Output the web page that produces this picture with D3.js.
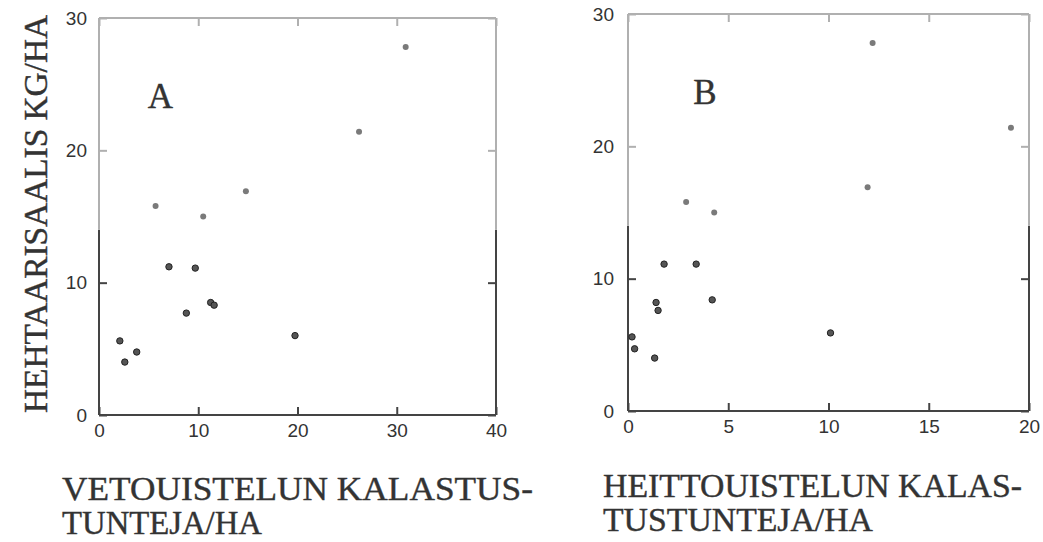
<!DOCTYPE html>
<html lang="fi">
<head>
  <meta charset="UTF-8" />
  <title>Hehtaarisaalis ja kalastustunnit</title>
  <script src="https://d3js.org/d3.v7.min.js"></script>
  <style>
    body { margin: 0; background: #fff; }
    svg { display: block; background: #fff; }
    .lbl { font-family: "Liberation Serif", "Times New Roman", serif; fill: #333; stroke: #333; stroke-width: 0.4px; }
    .tick text { font-family: "Liberation Sans", Arial, sans-serif; font-size: 19px; fill: #333; }
  </style>
</head>
<body>
<svg width="1043" height="542"></svg>
<script>
  // Paneeli A: vetouistelu
  const xA = [30.9, 26.2, 14.8, 5.7, 10.5, 7.05, 9.7, 11.25, 11.6, 8.8, 19.75, 2.1, 3.8, 2.6];
  const yA = [27.8, 21.4, 16.9, 15.8, 15.0, 11.2, 11.1, 8.5, 8.3, 7.7, 6.0, 5.6, 4.76, 4.0];
  // Paneeli B: heittouistelu
  const xB = [12.2, 19.1, 11.95, 2.9, 4.3, 1.8, 3.4, 4.2, 1.4, 1.5, 0.2, 0.33, 1.33, 10.1];
  const yB = [27.8, 21.4, 16.9, 15.8, 15.0, 11.1, 11.1, 8.4, 8.2, 7.6, 5.6, 4.7, 4.0, 5.9];

  const xTicksA = [0, 10, 20, 30, 40];
  const xTicksB = [0, 5, 10, 15, 20];
  const yTicks = [0, 10, 20, 30];

  const yLabel = "HEHTAARISAALIS KG/HA";
  const xLabelA = ["VETOUISTELUN KALASTUS-", "TUNTEJA/HA"];
  const xLabelB = ["HEITTOUISTELUN KALAS-", "TUSTUNTEJA/HA"];

  const svg = d3.select("svg");
  const FADE = 14;          // skannauksen haalistuma ylhäällä
  const dark = "#444", light = "#b0b0b0";

  function panel(cfg) {
    const g = svg.append("g");
    const xMax = cfg.xTicks[cfg.xTicks.length - 1];
    const x = d3.scaleLinear().domain([0, xMax]).range([cfg.left, cfg.right]);
    const y = d3.scaleLinear().domain([0, 30]).range([cfg.bottom, cfg.top]);

    // kehys
    const segs = [
      [0, 0, xMax, 0, dark],
      [0, 0, 0, FADE, dark], [0, FADE, 0, 30, light],
      [xMax, 0, xMax, FADE, dark], [xMax, FADE, xMax, 30, light],
      [0, 30, xMax, 30, light]
    ];
    g.selectAll(".frame").data(segs).enter().append("line")
      .attr("x1", d => x(d[0])).attr("y1", d => y(d[1]))
      .attr("x2", d => x(d[2])).attr("y2", d => y(d[3]))
      .attr("stroke", d => d[4]).attr("stroke-width", 2);

    const tickCol = v => v > FADE ? light : dark;

    g.append("g").attr("transform", `translate(0,${cfg.bottom})`)
      .call(d3.axisBottom(x).tickValues(cfg.xTicks).tickSize(-8).tickSizeOuter(0).tickPadding(9))
      .call(a => a.select(".domain").remove())
      .call(a => a.selectAll(".tick line").attr("stroke", dark).attr("stroke-width", 2))
      .call(a => a.selectAll(".tick text").attr("dy", "0.71em"));

    g.append("g").attr("transform", `translate(0,${cfg.top})`)
      .call(d3.axisTop(x).tickValues(cfg.xTicks).tickSize(-8).tickSizeOuter(0).tickFormat(""))
      .call(a => a.select(".domain").remove())
      .call(a => a.selectAll(".tick line").attr("stroke", light).attr("stroke-width", 2));

    g.append("g").attr("transform", `translate(${cfg.left},0)`)
      .call(d3.axisLeft(y).tickValues(yTicks).tickSize(-8).tickSizeOuter(0).tickPadding(cfg.pad))
      .call(a => a.select(".domain").remove())
      .call(a => a.selectAll(".tick line").attr("stroke", tickCol).attr("stroke-width", 2));

    g.append("g").attr("transform", `translate(${cfg.right},0)`)
      .call(d3.axisRight(y).tickValues(yTicks).tickSize(-8).tickSizeOuter(0).tickFormat(""))
      .call(a => a.select(".domain").remove())
      .call(a => a.selectAll(".tick line").attr("stroke", tickCol).attr("stroke-width", 2));

    // pisteet
    const pts = cfg.xs.map((v, i) => ({x: v, y: cfg.ys[i]}));
    g.selectAll(".pt").data(pts).enter().append("circle")
      .attr("cx", d => x(d.x)).attr("cy", d => y(d.y))
      .attr("r", d => d.y > FADE ? 3 : 3.2)
      .attr("fill", d => d.y > FADE ? "#7a7a7a" : "#555")
      .attr("stroke", d => d.y > FADE ? "none" : "#222")
      .attr("stroke-width", 1);

    // paneelin kirjain
    g.append("text").attr("class", "lbl")
      .attr("x", x(cfg.letterX)).attr("y", y(23.2))
      .style("font-size", "35px")
      .text(cfg.letter);

    // x-akselin otsikko
    g.selectAll(".xl").data(cfg.xLabel).enter().append("text")
      .attr("class", "lbl")
      .attr("x", cfg.labelX)
      .attr("y", (d, i) => cfg.labelY + i * 34)
      .attr("textLength", (d, i) => cfg.labelW[i])
      .attr("lengthAdjust", "spacingAndGlyphs")
      .style("font-size", "33px")
      .text(d => d);
  }

  panel({xs: xA, ys: yA, xTicks: xTicksA, left: 99, right: 496, top: 18, bottom: 415, pad: 12,
         letter: "A", letterX: 4.9, xLabel: xLabelA, labelX: 62, labelY: 500, labelW: [471, 200]});
  panel({xs: xB, ys: yB, xTicks: xTicksB, left: 628, right: 1029, top: 14, bottom: 411, pad: 14,
         letter: "B", letterX: 3.25, xLabel: xLabelB, labelX: 603, labelY: 497, labelW: [419, 270]});

  // y-akselin otsikko
  svg.append("text").attr("class", "lbl")
    .attr("transform", "translate(47,214) rotate(-90)")
    .attr("text-anchor", "middle")
    .attr("textLength", 398)
    .attr("lengthAdjust", "spacingAndGlyphs")
    .style("font-size", "33px")
    .text(yLabel);
</script>
</body>
</html>
